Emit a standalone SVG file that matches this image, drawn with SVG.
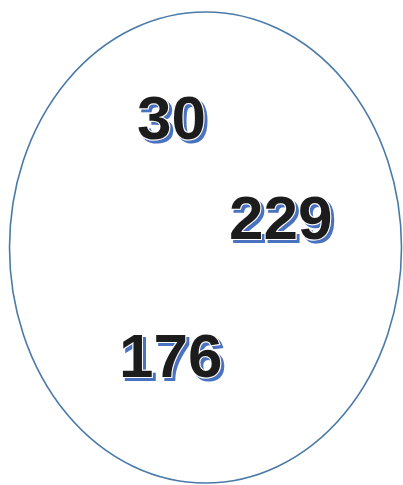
<svg xmlns="http://www.w3.org/2000/svg" width="403" height="485" viewBox="0 0 403 485">
<defs>
<filter id="shadow" x="-10%" y="-20%" width="130%" height="150%">
<feOffset in="SourceAlpha" dx="3" dy="3" result="o"/>
<feFlood flood-color="#4a72c0"/>
<feComposite in2="o" operator="in" result="s"/>
<feMerge><feMergeNode in="s"/><feMergeNode in="SourceGraphic"/></feMerge>
</filter>
</defs>
<style>
.t{font-family:"Liberation Sans",Arial,sans-serif;font-weight:bold;font-size:62px;fill:#1e1e1e;stroke:#ffffff;stroke-width:2;paint-order:stroke;filter:url(#shadow)}
</style>
<rect width="403" height="485" fill="#ffffff"/>
<g id="ellipse"><ellipse cx="205.5" cy="247.5" rx="196" ry="235.5" fill="none" stroke="#4a7aa8" stroke-width="1.6"/></g>
<g id="n30"><text class="t" x="137" y="139">30</text></g>
<g id="n229"><text class="t" x="229" y="239">229</text></g>
<g id="n176"><text class="t" x="119" y="377">176</text></g>
<g id="connectors"></g>
</svg>
